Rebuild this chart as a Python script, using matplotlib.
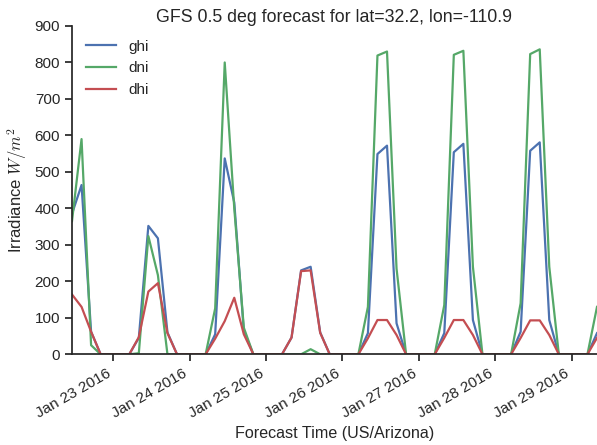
import numpy as np
import pandas as pd
import matplotlib
matplotlib.use("Agg")
import matplotlib.pyplot as plt
import matplotlib.dates as mdates

# 3-hourly GFS forecast, local time (US/Arizona)
times = pd.date_range("2016-01-22 11:00", periods=56, freq="3h")

ghi = [385, 464, 62, 0, 0, 0, 0, 45, 352, 318, 60, 0, 0, 0,
       0, 55, 537, 416, 64, 0, 0, 0, 0, 46, 230, 240, 60, 0,
       0, 0, 0, 58, 549, 572, 85, 0, 0, 0, 0, 58, 554, 577,
       94, 0, 0, 0, 0, 62, 558, 581, 94, 0, 0, 0, 0, 58]
dni = [365, 590, 25, 0, 0, 0, 0, 3, 324, 217, 0, 0, 0, 0,
       0, 126, 800, 400, 73, 0, 0, 0, 0, 0, 0, 14, 0, 0,
       0, 0, 0, 130, 819, 830, 235, 0, 0, 0, 0, 135, 821, 832,
       240, 0, 0, 0, 0, 140, 823, 836, 240, 0, 0, 0, 0, 130]
dhi = [164, 130, 62, 0, 0, 0, 0, 47, 172, 195, 58, 0, 0, 0,
       0, 43, 91, 155, 55, 0, 0, 0, 0, 46, 228, 230, 59, 0,
       0, 0, 0, 44, 94, 94, 53, 0, 0, 0, 0, 45, 94, 94,
       53, 0, 0, 0, 0, 45, 93, 93, 53, 0, 0, 0, 0, 45]

plt.rcParams['font.family'] = ['Liberation Sans', 'DejaVu Sans']
plt.rcParams['mathtext.fontset'] = 'cm'
plt.rcParams['text.color'] = '#262626'
plt.rcParams['axes.labelcolor'] = '#262626'
plt.rcParams['xtick.color'] = '#262626'
plt.rcParams['ytick.color'] = '#262626'

fig = plt.figure(figsize=(5.97, 4.45), dpi=100)
ax = fig.add_axes([0.1206, 0.2038, 0.8794, 0.7378])

ax.plot(times, ghi, color="#4C72B0", lw=1.6, label="ghi")
ax.plot(times, dni, color="#55A868", lw=1.6, label="dni")
ax.plot(times, dhi, color="#C44E52", lw=1.6, label="dhi")

ax.set_xlim(times[0], times[-1])
ax.set_ylim(0, 900)
ax.set_yticks(np.arange(0, 901, 100))
ax.xaxis.set_major_locator(mdates.DayLocator())
ax.xaxis.set_major_formatter(mdates.DateFormatter("%b %d %Y"))
for lab in ax.get_xticklabels():
    lab.set_rotation(30)
    lab.set_ha("right")

for s in ["top", "right"]:
    ax.spines[s].set_visible(False)
for s in ["left", "bottom"]:
    ax.spines[s].set_color("#262626")
    ax.spines[s].set_linewidth(1.25)
ax.tick_params(direction="out", length=5, width=1.25, labelsize=11)

ax.set_ylabel("Irradiance $W/m^2$", fontsize=12)
ax.set_xlabel("Forecast Time (US/Arizona)", fontsize=11.6)
ax.set_title("GFS 0.5 deg forecast for lat=32.2, lon=-110.9", fontsize=12.8, pad=3)
ax.legend(loc="upper left", frameon=False, fontsize=11)

fig.savefig("out.png", dpi=100)
